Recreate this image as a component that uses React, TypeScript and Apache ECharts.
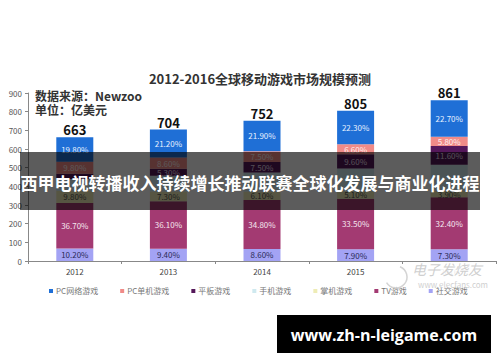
import React, { useEffect, useRef } from "react";
import * as echarts from "echarts";

const categories = ["2012", "2013", "2014", "2015", "2016"];
const totals = [663, 704, 752, 805, 861];
// shares in percent per segment
const pcOnline = [19.8, 21.2, 21.9, 22.3, 22.7];
const pcSingle = [9.8, 8.6, 7.5, 6.6, 5.8];
const tablet = [4.2, 5.3, 7.5, 9.6, 11.6];
const phone = [9.5, 12.1, 13.6, 15.0, 16.3];
const handheld = [9.8, 7.3, 6.1, 5.1, 3.9];
const tvGame = [36.7, 36.1, 34.8, 33.5, 32.4];
const social = [10.2, 9.4, 8.6, 7.9, 7.3];
const yTicks = [0, 100, 200, 300, 400, 500, 600, 700, 800, 900];

const FONT = "'Noto Sans CJK SC', 'Noto Sans', sans-serif";

export default function App() {
  const ref = useRef<HTMLDivElement>(null);
  useEffect(() => {
    if (!ref.current) return;
    const chart = echarts.init(ref.current, null, { renderer: "svg" });

    const mk = (
      name: string,
      pct: number[],
      color: string,
      labelColor: string,
      showLabel = true
    ) => ({
      name,
      type: "bar",
      stack: "total",
      barWidth: 37,
      data: pct.map((p, i) => (totals[i] * p) / 100),
      itemStyle: { color },
      label: {
        show: showLabel,
        position: "inside",
        fontSize: 8,
        fontFamily: FONT,
        color: labelColor,
        formatter: (p: any) => (pct[p.dataIndex] < 5 ? "" : pct[p.dataIndex].toFixed(2) + "%"),
      },
    });

    const series: any[] = [
      mk("社交游戏", social, "#a3a3f4", "#2a2a55"),
      mk("TV游戏", tvGame, "#a33a72", "#f4e6ee"),
      mk("掌机游戏", handheld, "#eeecb6", "#555"),
      mk("手机游戏", phone, "#cfe9ef", "#555", false),
      mk("平板游戏", tablet, "#55185a", "#e8d8ea"),
      mk("PC单机游戏", pcSingle, "#f08b88", "#fff0f0"),
      mk("PC网络游戏", pcOnline, "#1f6fd6", "#e6efff"),
    ];
    // handheld 2016 label is below 5 but shown in the reference
    series[2].label.formatter = (p: any) => handheld[p.dataIndex].toFixed(2) + "%";
    // totals label above the stack
    series.push({
      name: "总计",
      type: "bar",
      stack: "total",
      barWidth: 37,
      data: totals.map(() => 0),
      itemStyle: { color: "transparent" },
      label: {
        show: true,
        position: "top",
        distance: 1,
        fontSize: 13,
        fontWeight: "bold",
        fontFamily: FONT,
        color: "#111",
        formatter: (p: any) => String(totals[p.dataIndex]),
      },
    });

    chart.setOption({
      animation: false,
      backgroundColor: "#fff",
      grid: { left: 28, right: 4, top: 93, bottom: 101 },
      xAxis: {
        type: "category",
        data: categories,
        axisLine: { lineStyle: { color: "#888" } },
        axisTick: { show: true, alignWithLabel: false, length: 3, lineStyle: { color: "#888" } },
        axisLabel: { fontSize: 8, color: "#444", fontFamily: FONT, margin: 6 },
      },
      yAxis: {
        type: "value",
        min: 0,
        max: 900,
        interval: 100,
        axisLine: { show: true, lineStyle: { color: "#888" } },
        axisTick: { show: true, length: 3, lineStyle: { color: "#888" } },
        splitLine: { show: false },
        axisLabel: {
          fontSize: 8,
          color: "#555",
          fontFamily: FONT,
          margin: 6,
          formatter: (v: number) => (yTicks.includes(v) ? String(v) : ""),
        },
      },
      legend: {
        data: ["PC网络游戏", "PC单机游戏", "平板游戏", "手机游戏", "掌机游戏", "TV游戏", "社交游戏"],
        left: 44,
        top: 282,
        itemWidth: 4,
        itemHeight: 4,
        itemGap: 22,
        icon: "rect",
        textStyle: { fontSize: 8, color: "#777", fontFamily: FONT, padding: [0, 0, 0, -2] },
      },
      series,
      graphic: [
        {
          type: "text",
          x: 260,
          y: 78,
          z: 50,
          style: {
            text: "2012-2016全球移动游戏市场规模预测",
            fontSize: 13,
            fontWeight: "bold",
            fontFamily: FONT,
            fill: "#333",
            textAlign: "center",
            textVerticalAlign: "middle",
          },
        },
        {
          type: "text",
          x: 35,
          y: 95,
          z: 50,
          style: {
            text: "数据来源：Newzoo",
            fontSize: 12,
            fontWeight: "bold",
            fontFamily: FONT,
            fill: "#333",
            textVerticalAlign: "middle",
          },
        },
        {
          type: "text",
          x: 35,
          y: 109,
          z: 50,
          style: {
            text: "单位：亿美元",
            fontSize: 12,
            fontWeight: "bold",
            fontFamily: FONT,
            fill: "#333",
            textVerticalAlign: "middle",
          },
        },
        // watermark
        {
          type: "rect",
          z: 60,
          shape: { x: 408, y: 262, width: 80, height: 14 },
          style: { fill: "rgba(255,255,255,0.9)" },
        },
        {
          type: "arc",
          z: 61,
          shape: { cx: 396, cy: 277, r: 11, startAngle: -1.2, endAngle: 2.6 },
          style: { stroke: "#d4d4d4", lineWidth: 1.5, fill: "none" },
        },
        {
          type: "text",
          x: 447,
          y: 269,
          z: 61,
          style: {
            text: "电子发烧友",
            fontSize: 14,
            fontStyle: "italic",
            fontFamily: FONT,
            fill: "#cfcfcf",
            textAlign: "center",
            textVerticalAlign: "middle",
          },
        },
        {
          type: "text",
          x: 453,
          y: 284,
          z: 61,
          style: {
            text: "www.elecfans.com",
            fontSize: 8,
            fontFamily: FONT,
            fill: "#d0d0d0",
            textAlign: "center",
            textVerticalAlign: "middle",
          },
        },
        // banner
        {
          type: "rect",
          z: 100,
          shape: { x: 20, y: 152, width: 460, height: 58 },
          style: { fill: "rgba(0,0,0,0.64)" },
        },
        {
          type: "text",
          x: 250,
          y: 182,
          z: 101,
          style: {
            text: "西甲电视转播收入持续增长推动联赛全球化发展与商业化进程",
            fontSize: 17,
            fontWeight: "bold",
            fontFamily: FONT,
            fill: "#fff",
            textAlign: "center",
            textVerticalAlign: "middle",
          },
        },
        // bottom box
        {
          type: "rect",
          z: 100,
          shape: { x: 277, y: 315, width: 214, height: 38 },
          style: { fill: "#000" },
        },
        {
          type: "text",
          x: 384,
          y: 335,
          z: 101,
          style: {
            text: "www.zh-n-leigame.com",
            fontSize: 16,
            fontWeight: "bold",
            fontFamily: "'Open Sans', 'DejaVu Sans', sans-serif",
            fill: "#fff",
            textAlign: "center",
            textVerticalAlign: "middle",
          },
        },
      ],
    });
    return () => chart.dispose();
  }, []);

  return (
    <div
      ref={ref}
      style={{ position: "absolute", left: 0, top: 0, width: 500, height: 362 }}
    />
  );
}
